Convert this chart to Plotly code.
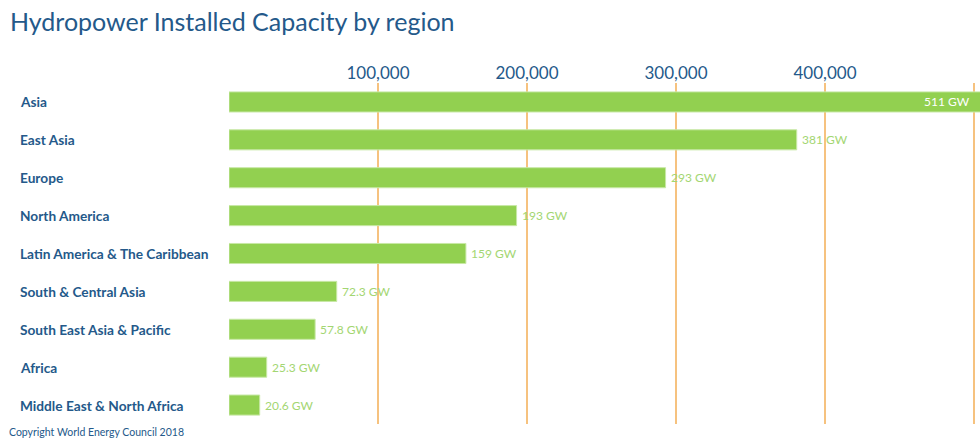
import plotly.graph_objects as go

regions = ["Asia", "East Asia", "Europe", "North America", "Latin America & The Caribbean",
           "South & Central Asia", "South East Asia & Pacific", "Africa", "Middle East & North Africa"]
capacity_gw = [511, 381, 293, 193, 159, 72.3, 57.8, 25.3, 20.6]
capacity_mw = [v * 1000 for v in capacity_gw]
tick_vals = [100000, 200000, 300000, 400000, 500000]
tick_text = ["100,000", "200,000", "300,000", "400,000", ""]
x_max = 504000

BLUE = "#24598a"
GREEN = "#92d050"
LABEL_GREEN = "#a3d672"
GRID = "#f6c27f"
FONT = "Lato"

def fmt(v):
    return f"{v:g} GW"

fig = go.Figure(go.Bar(
    x=capacity_mw, y=regions, orientation="h",
    marker=dict(color=GREEN, line=dict(color="#c8e8a6", width=1)),
    width=0.53,
    hoverinfo="skip",
))

annotations = []
for r, v in zip(regions, capacity_gw):
    annotations.append(dict(x=0, xref="paper", y=r, yref="y", text=f"<b>{r}</b>",
                            xanchor="left", xshift=-211, showarrow=False,
                            font=dict(family=FONT, size=13.7, color=BLUE)))
    if v * 1000 > x_max:
        annotations.append(dict(x=x_max, xref="x", y=r, yref="y", text=fmt(v),
                                xanchor="right", xshift=-8, showarrow=False,
                                font=dict(family=FONT, size=12, color="white")))
    else:
        annotations.append(dict(x=v * 1000, xref="x", y=r, yref="y", text=fmt(v),
                                xanchor="left", xshift=3, showarrow=False,
                                font=dict(family=FONT, size=12, color=LABEL_GREEN)))

fig.update_layout(
    width=980, height=441,
    margin=dict(l=229, r=0, t=83, b=17),
    plot_bgcolor="white", paper_bgcolor="white",
    showlegend=False,
    title=dict(text="Hydropower Installed Capacity by region", x=10/980, xanchor="left",
               y=1 - 22/441, yanchor="middle",
               font=dict(family=FONT, size=25, color=BLUE)),
    xaxis=dict(range=[0, x_max], side="top", tickvals=tick_vals, ticktext=tick_text,
               showgrid=True, gridcolor=GRID, gridwidth=2, zeroline=False,
               showline=False, ticks="", tickfont=dict(family=FONT, size=17, color=BLUE)),
    yaxis=dict(autorange="reversed", showticklabels=False, showgrid=False,
               zeroline=False, showline=False, ticks=""),
    annotations=annotations,
)

fig.add_annotation(x=0, xref="paper", xshift=-222, xanchor="left", y=0, yref="paper",
                   yshift=-8, yanchor="middle", text="Copyright World Energy Council 2018",
                   showarrow=False, font=dict(family=FONT, size=10.5, color=BLUE))

fig.write_html("out.html", post_script="document.body.style.margin='0';",
               config={"displayModeBar": False})
